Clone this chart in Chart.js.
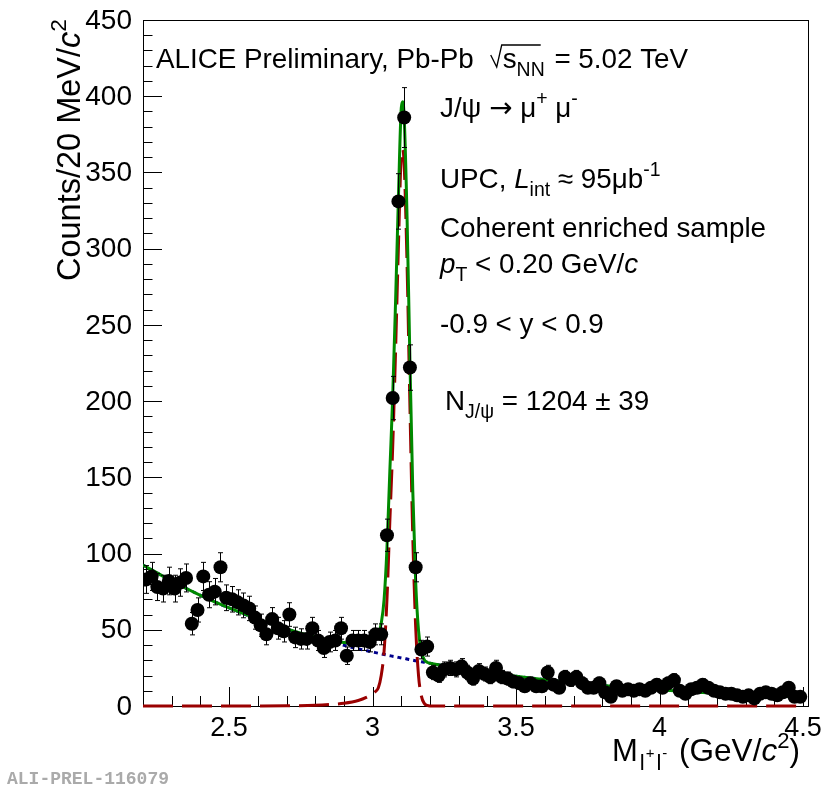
<!DOCTYPE html>
<html>
<head>
<meta charset="utf-8">
<script src="https://cdn.jsdelivr.net/npm/chart.js@4.4.0/dist/chart.umd.min.js"></script>
<style>
  html, body { margin: 0; padding: 0; background: #fff; }
</style>
</head>
<body>
<canvas id="massChart" width="824" height="788"></canvas>
<script>
// J/psi -> mu+ mu- invariant mass spectrum, ALICE UPC Pb-Pb

// --- binning (20 MeV bins from 2.2 to 4.5)
const BIN_LOW = 2.2;
const BIN_WIDTH = 0.02;

// counts per bin
const counts = [
  83, 85, 78, 77, 82, 77, 81, 84, 54, 63, 85, 73, 75, 91, 71, 70, 68, 66, 64, 58,
  53, 47, 57, 51, 49, 60, 45, 44, 44, 51, 43, 38, 42, 43, 51, 33, 43, 43, 43, 42,
  47, 47, 112, 202, 331, 386, 222, 91, 37, 39, 22, 20, 24, 25, 24, 26, 22, 18, 23, 21,
  19, 25, 19, 18, 16, 15, 13, 15, 13, 13, 22, 14, 12, 19, 17, 19, 15, 12, 12, 15,
  9, 6, 13, 10, 11, 10, 11, 10, 12, 14, 12, 15, 17, 10, 8, 11, 12, 14, 12, 10,
  9, 8, 8, 7, 6, 7, 5, 8, 9, 8, 7, 9, 12, 6, 6
];
const binCenters = counts.map((_, i) => +(BIN_LOW + BIN_WIDTH * (i + 0.5)).toFixed(3));

// fit curves
const fitX = [2.2, 2.3, 2.4, 2.5, 2.6, 2.7, 2.8, 2.85, 2.9, 2.95, 2.98, 3.0, 3.01, 3.02, 3.03, 3.04,
  3.05, 3.06, 3.07, 3.08, 3.09, 3.10, 3.105, 3.11, 3.12, 3.13, 3.14, 3.15, 3.16, 3.17, 3.18, 3.19,
  3.2, 3.25, 3.3, 3.4, 3.5, 3.6, 3.7, 3.8, 3.9, 4.0, 4.1, 4.2, 4.3, 4.4, 4.5];
const bkgY = [92.5, 82.0, 72.6, 64.3, 57.0, 50.5, 44.8, 42.2, 39.8, 37.5, 36.2, 35.4, 35.0, 34.6, 34.2, 33.8,
  33.4, 33.0, 32.6, 32.3, 31.9, 31.5, 31.3, 31.2, 30.8, 30.4, 30.1, 29.7, 29.4, 29.0, 28.7, 28.3,
  28.0, 26.4, 24.8, 22.0, 19.5, 17.3, 15.3, 13.5, 12.0, 10.6, 9.4, 8.3, 7.4, 6.5, 5.8];
const sigY = [0, 0, 0, 0, 0, 0.1, 0.5, 1, 1.8, 3.6, 5.8, 8, 9.5, 12, 20, 36,
  70, 121, 170, 233, 302, 361, 365, 355, 290, 197, 111, 52, 20, 6.5, 1.7, 0.4,
  0, 0, 0, 0, 0, 0, 0, 0, 0, 0, 0, 0, 0, 0, 0];
const totalY = [92.5, 82.0, 72.6, 64.3, 57.0, 50.6, 45.3, 43.2, 41.6, 41.1, 42.0, 43.4, 44.5, 46.6, 54.2, 69.8,
  103.4, 154.0, 202.6, 265.3, 333.9, 392.5, 396.3, 386.2, 320.8, 227.4, 141.1, 81.7, 49.4, 35.5, 30.4, 28.7,
  28.0, 26.4, 24.8, 22.0, 19.5, 17.3, 15.3, 13.5, 12.0, 10.6, 9.4, 8.3, 7.4, 6.5, 5.8];

// axis ticks
const xMajor = [2.5, 3, 3.5, 4, 4.5];
const xTickLabels = ['2.5', '3', '3.5', '4', '4.5'];
const yMajor = [0, 50, 100, 150, 200, 250, 300, 350, 400, 450];

const FONT = '"Liberation Sans", Arial, Helvetica, sans-serif';

// draws a run of text pieces: {t, it, sub, sup}
function richText(ctx, x, y, parts, base){
  for(const p of parts){
    let size = base, dy = 0;
    if(p.sub){ size = base * 0.7; dy = base * 0.27; }
    if(p.sup){ size = base * 0.7; dy = -base * 0.42; }
    ctx.font = `${p.it ? 'italic ' : ''}${size}px ${p.font || FONT}`;
    ctx.fillText(p.t, x, y + dy);
    x += ctx.measureText(p.t).width + (p.gap || 0);
  }
  return x;
}

const errorBars = {
  id: 'errorBars',
  beforeDatasetDraw(chart, args){
    if(args.index !== 0) return;
    const {ctx, scales: {x, y}} = chart;
    ctx.save();
    ctx.strokeStyle = '#000';
    ctx.lineWidth = 1;
    counts.forEach((v, i) => {
      const px = Math.round(x.getPixelForValue(binCenters[i])) + 0.5;
      const err = Math.sqrt(v);
      const top = y.getPixelForValue(v + err);
      const bot = y.getPixelForValue(Math.max(v - err, 0));
      ctx.beginPath();
      ctx.moveTo(px, top); ctx.lineTo(px, bot);
      ctx.moveTo(px - 2.5, top); ctx.lineTo(px + 2.5, top);
      ctx.moveTo(px - 2.5, bot); ctx.lineTo(px + 2.5, bot);
      ctx.stroke();
    });
    ctx.restore();
  }
};

const frameAxes = {
  id: 'frameAxes',
  beforeDatasetsDraw(chart){
    const {ctx, chartArea: a, scales: {x, y}} = chart;
    ctx.save();
    ctx.strokeStyle = '#000';
    ctx.lineWidth = 1;
    ctx.strokeRect(a.left + 0.5, a.top + 0.5, a.right - a.left, a.bottom - a.top);
    ctx.beginPath();
    // y ticks: minor every 10, major every 50
    for(let v = 0; v <= 450; v += 10){
      const py = Math.round(y.getPixelForValue(v)) + 0.5;
      const len = v % 50 === 0 ? 19 : 9.5;
      ctx.moveTo(a.left, py); ctx.lineTo(a.left + len, py);
    }
    // x ticks: minor every 0.1, major every 0.5
    for(let k = 23; k <= 45; k++){
      const px = Math.round(x.getPixelForValue(k / 10)) + 0.5;
      const len = k % 5 === 0 ? 19 : 10;
      ctx.moveTo(px, a.bottom); ctx.lineTo(px, a.bottom - len);
    }
    ctx.stroke();

    ctx.fillStyle = '#000';
    ctx.font = `28px ${FONT}`;
    ctx.textAlign = 'right';
    ctx.textBaseline = 'middle';
    yMajor.forEach(v => ctx.fillText(String(v), a.left - 11, y.getPixelForValue(v) + 1));
    ctx.font = `27px ${FONT}`;
    ctx.textAlign = 'center';
    ctx.textBaseline = 'alphabetic';
    xMajor.forEach((v, i) => ctx.fillText(xTickLabels[i], x.getPixelForValue(v), a.bottom + 30));
    ctx.restore();
  }
};

const labels = {
  id: 'labels',
  afterDraw(chart){
    const {ctx} = chart;
    ctx.save();
    ctx.fillStyle = '#000';
    ctx.textAlign = 'left';
    ctx.textBaseline = 'alphabetic';

    // y title
    ctx.save();
    ctx.translate(80, 281);
    ctx.rotate(-Math.PI / 2);
    richText(ctx, 0, 0, [{t: 'Counts/20 MeV/'}, {t: 'c', it: true}, {t: '2', sup: true}], 32.5);
    ctx.restore();

    // x title
    let xx = richText(ctx, 612, 761, [{t: 'M'}], 31);
    xx = richText(ctx, xx + 2, 770, [{t: 'l'}], 22);
    xx = richText(ctx, xx + 1, 758, [{t: '+'}], 15);
    xx = richText(ctx, xx + 2, 770, [{t: 'l'}], 22);
    xx = richText(ctx, xx + 1, 758, [{t: '-'}], 15);
    richText(ctx, xx + 3, 761, [{t: ' (GeV/'}, {t: 'c', it: true}, {t: '2', sup: true}, {t: ')'}], 31.5);

    // header
    const fs = 27.8;
    let hx = richText(ctx, 156, 68, [{t: 'ALICE Preliminary, Pb-Pb'}], fs);
    hx += 17;
    ctx.lineWidth = 1.3;
    ctx.strokeStyle = '#000';
    ctx.beginPath();
    ctx.moveTo(hx, 55); ctx.lineTo(hx + 6, 67); ctx.lineTo(hx + 11, 45); ctx.lineTo(hx + 50, 45);
    ctx.stroke();
    hx = richText(ctx, hx + 12, 68, [{t: 's'}, {t: 'NN', sub: true}], fs);
    richText(ctx, hx + 2, 68, [{t: ' = 5.02 TeV'}], fs);

    const tx = 440;
    richText(ctx, tx, 117, [{t: 'J/ψ '}, {t: '→', font: '"DejaVu Sans", sans-serif'}, {t: ' μ'}, {t: '+', sup: true}, {t: ' μ'}, {t: '-', sup: true}], fs);
    richText(ctx, tx, 188, [{t: 'UPC, '}, {t: 'L', it: true}, {t: 'int', sub: true}, {t: ' ≈ 95μb'}, {t: '-1', sup: true}], fs);
    richText(ctx, tx, 237, [{t: 'Coherent enriched sample'}], fs);
    richText(ctx, tx, 273, [{t: 'p', it: true}, {t: 'T', sub: true}, {t: ' < 0.20 GeV/'}, {t: 'c', it: true}], fs);
    richText(ctx, tx, 333, [{t: '-0.9 < y < 0.9'}], fs);
    richText(ctx, tx + 5, 410, [{t: 'N'}, {t: 'J/ψ', sub: true}, {t: ' = 1204 ± 39'}], fs);

    // preliminary tag
    ctx.fillStyle = '#aaaaaa';
    ctx.font = `bold 18px "Liberation Mono", "DejaVu Sans Mono", monospace`;
    ctx.fillText('ALI-PREL-116079', 7, 784);
    ctx.restore();
  }
};

const ctx = document.getElementById('massChart').getContext('2d');
new Chart(ctx, {
  type: 'scatter',
  data: {
    datasets: [
      {
        label: 'data',
        data: counts.map((v, i) => ({x: binCenters[i], y: v})),
        pointRadius: 7,
        pointHoverRadius: 7,
        pointBackgroundColor: '#000',
        pointBorderWidth: 0,
        showLine: false,
        order: 0
      },
      {
        label: 'total fit',
        data: fitX.map((x, i) => ({x, y: totalY[i]})),
        showLine: true,
        pointRadius: 0,
        borderColor: '#008a00',
        borderWidth: 3,
        cubicInterpolationMode: 'monotone',
        order: 1
      },
      {
        label: 'signal',
        data: fitX.map((x, i) => ({x, y: sigY[i]})),
        showLine: true,
        pointRadius: 0,
        borderColor: '#9a0000',
        borderWidth: 3,
        borderDash: [30, 9],
        cubicInterpolationMode: 'monotone',
        clip: false,
        order: 2
      },
      {
        label: 'background',
        data: fitX.map((x, i) => ({x, y: bkgY[i]})),
        showLine: true,
        pointRadius: 0,
        borderColor: '#00008c',
        borderWidth: 3,
        borderDash: [4, 4],
        cubicInterpolationMode: 'monotone',
        order: 3
      }
    ]
  },
  options: {
    responsive: false,
    animation: false,
    devicePixelRatio: 1,
    layout: {padding: {left: 143, top: 20, right: 16, bottom: 82}},
    plugins: {legend: {display: false}, tooltip: {enabled: false}},
    scales: {
      x: {type: 'linear', min: 2.2, max: 4.517, display: false},
      y: {type: 'linear', min: 0, max: 450, display: false}
    }
  },
  plugins: [frameAxes, errorBars, labels]
});
</script>
</body>
</html>
